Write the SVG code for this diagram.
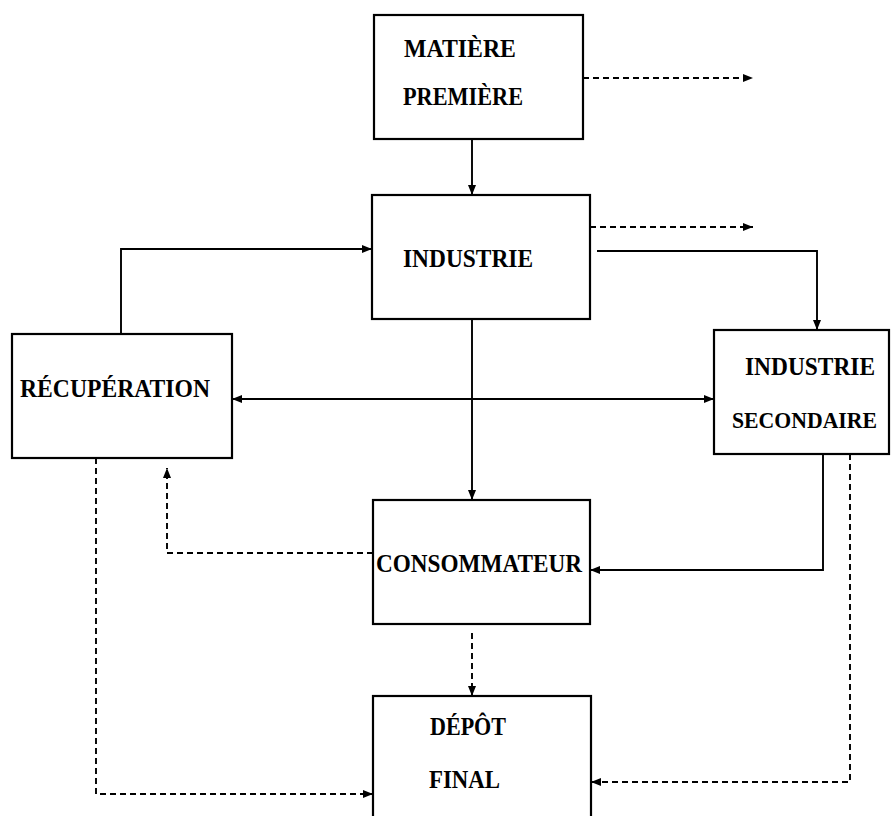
<svg xmlns="http://www.w3.org/2000/svg" width="891" height="816" viewBox="0 0 891 816">
<defs>
<style>
.box{fill:#fff;stroke:#000;stroke-width:2.2}
.ln{fill:none;stroke:#000;stroke-width:1.9}
.ds{fill:none;stroke:#000;stroke-width:1.9;stroke-dasharray:6 4}
.t{font-family:"Liberation Serif","Times New Roman",serif;font-weight:bold;font-size:25px;fill:#000}
</style>
<marker id="ah" viewBox="0 0 10 8" refX="10" refY="4" markerWidth="11" markerHeight="8" markerUnits="userSpaceOnUse" orient="auto-start-reverse">
<path d="M0,0 L10,4 L0,8 Z" fill="#000"/>
</marker>
</defs>
<rect width="891" height="816" fill="#fff"/>
<g id="connectors">
<line class="ln" x1="472" y1="139" x2="472" y2="195" marker-end="url(#ah)"/>
<line class="ds" x1="583" y1="78" x2="753" y2="78" marker-end="url(#ah)"/>
<line class="ds" x1="590" y1="227" x2="753" y2="227" marker-end="url(#ah)"/>
<polyline class="ln" points="597,251 817,251 817,330" marker-end="url(#ah)"/>
<polyline class="ln" points="121,334 121,249 372,249" marker-end="url(#ah)"/>
<line class="ln" x1="232" y1="399" x2="714" y2="399" marker-start="url(#ah)" marker-end="url(#ah)"/>
<line class="ln" x1="472" y1="319" x2="472" y2="500" marker-end="url(#ah)"/>
<polyline class="ln" points="823,454 823,570 590,570" marker-end="url(#ah)"/>
<polyline class="ds" points="850,454 850,782 591,782" marker-end="url(#ah)"/>
<polyline class="ds" points="96,458 96,794 373,794" marker-end="url(#ah)"/>
<polyline class="ds" points="373,553 167,553 167,468" marker-end="url(#ah)"/>
<line class="ds" x1="472" y1="633" x2="472" y2="696" marker-end="url(#ah)"/>
</g>
<g id="matiere">
<rect class="box" x="374" y="15" width="209" height="124"/>
<text class="t" x="404" y="57" textLength="112" lengthAdjust="spacingAndGlyphs">MATIÈRE</text>
<text class="t" x="403" y="105" textLength="120" lengthAdjust="spacingAndGlyphs">PREMIÈRE</text>
</g>
<g id="industrie">
<rect class="box" x="372" y="195" width="218" height="124"/>
<text class="t" x="403" y="267" textLength="130" lengthAdjust="spacingAndGlyphs">INDUSTRIE</text>
</g>
<g id="recuperation">
<rect class="box" x="12" y="334" width="220" height="124"/>
<text class="t" x="20" y="397" textLength="190" lengthAdjust="spacingAndGlyphs">RÉCUPÉRATION</text>
</g>
<g id="industrie-secondaire">
<rect class="box" x="714" y="330" width="175" height="124"/>
<text class="t" x="745" y="375" textLength="130" lengthAdjust="spacingAndGlyphs">INDUSTRIE</text>
<text class="t" x="732" y="428" textLength="145" lengthAdjust="spacingAndGlyphs" style="font-size:24px">SECONDAIRE</text>
</g>
<g id="consommateur">
<rect class="box" x="373" y="500" width="217" height="124"/>
<text class="t" x="376" y="572" textLength="206" lengthAdjust="spacingAndGlyphs">CONSOMMATEUR</text>
</g>
<g id="depot">
<rect class="box" x="373" y="696" width="218" height="134"/>
<text class="t" x="430" y="735" textLength="76" lengthAdjust="spacingAndGlyphs">DÉPÔT</text>
<text class="t" x="429" y="788" textLength="71" lengthAdjust="spacingAndGlyphs">FINAL</text>
</g>
</svg>
